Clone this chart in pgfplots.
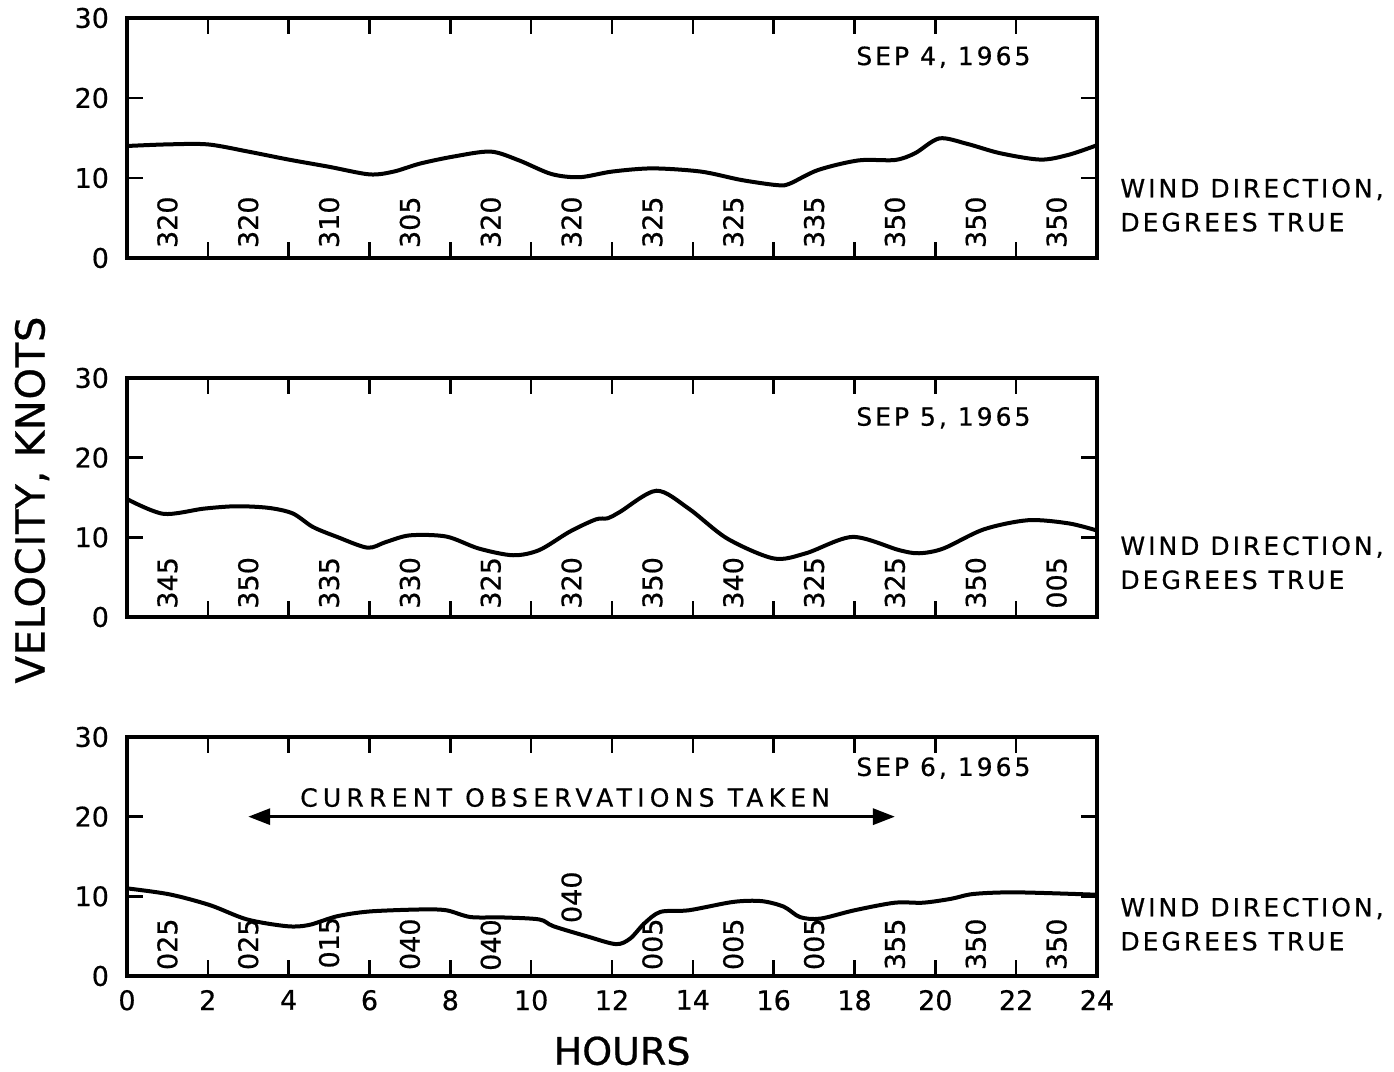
\documentclass[border=0pt]{standalone}
\usepackage{fontspec}
\setmainfont{DejaVu Sans}[FakeBold=0.6]
\usepackage{pgfplots}
\pgfplotsset{compat=1.18}
\usetikzlibrary{arrows.meta}

\newcommand{\lbl}{\fontsize{12.5bp}{17bp}\selectfont\addfontfeature{LetterSpace=12}}
\newcommand{\bigfont}{\fontsize{19bp}{22bp}\selectfont}

\pgfplotsset{
  panel/.style={
    width=485bp, height=120bp, scale only axis,
    xmin=0, xmax=24, ymin=0, ymax=30,
    xtick={0,2,...,24}, ytick={0,10,20,30},
    tick align=inside, major tick length=8bp,
    every tick/.style={black, line width=1.3bp},
    axis line style={line width=1.6bp},
    tick label style={font=\fontsize{13.5bp}{15bp}\selectfont},
    /pgf/number format/assume math mode=true,
    yticklabel style={xshift=-5.5bp},
    xticklabel style={yshift=-3.5bp},
    clip=false,
    anchor=south west,
  },
  curve/.style={black, line width=2bp, smooth, tension=0.5},
  dirs/.style={draw=none, mark=none, nodes near coords,
    point meta=explicit symbolic,
    every node near coord/.style={rotate=90, anchor=west, inner sep=0pt,
      font=\fontsize{13.5bp}{15bp}\selectfont}},
}

\begin{document}
\begin{tikzpicture}
\useasboundingbox (-63.5bp,-48bp) rectangle (633.5bp,488bp);

% Sep 4
\begin{axis}[panel, at={(0,359bp)}, xticklabels={}]
\addplot[curve] table {
0 14.0
1 14.2
2 14.2
3 13.3
4 12.3
5 11.4
6 10.45
6.6 10.8
7.25 11.8
8.1 12.7
9.0 13.3
9.7 12.2
10.5 10.5
11.2 10.1
12.0 10.8
13.0 11.2
14.2 10.8
15.2 9.75
16.1 9.1
16.4 9.3
17.1 11.0
18.1 12.2
19.0 12.25
19.5 13.1
20.1 14.95
20.8 14.25
21.6 13.1
22.6 12.3
23.3 12.9
24 14.1
};
\addplot[dirs] table[meta=d] {
x y d
1 1.2 320
3 1.2 320
5 1.2 310
7 1.2 305
9 1.2 320
11 1.2 320
13 1.2 325
15 1.2 325
17 1.2 335
19 1.2 350
21 1.2 350
23 1.2 350
};
\node[font=\lbl] at (axis cs:20.2,25.1) {SEP 4, 1965};
\node[font=\lbl, anchor=west, align=left, inner sep=0pt] at (axis cs:24.57,6.6) {WIND DIRECTION,\\DEGREES TRUE};
\end{axis}

% Sep 5
\begin{axis}[panel, at={(0,179.5bp)}, height=119.5bp, xticklabels={}]
\addplot[curve] table {
0 14.8
0.9 12.95
1.9 13.6
2.7 13.9
3.5 13.7
4.1 13.0
4.6 11.3
5.2 10.05
5.95 8.7
6.4 9.4
7.0 10.25
7.9 10.1
8.7 8.6
9.55 7.75
10.2 8.4
10.95 10.7
11.6 12.25
11.9 12.4
12.2 13.2
13.1 15.85
13.9 13.6
14.85 9.85
16.0 7.35
16.8 8.0
17.95 10.05
19.1 8.4
19.6 8.0
20.2 8.6
21.2 11.0
22.3 12.15
23.3 11.75
24 10.85
};
\addplot[dirs] table[meta=d] {
x y d
1 1.0 345
3 1.0 350
5 1.0 335
7 1.0 330
9 1.0 325
11 1.0 320
13 1.0 350
15 1.0 340
17 1.0 325
19 1.0 325
21 1.0 350
23 1.0 005
};
\node[font=\lbl] at (axis cs:20.2,25) {SEP 5, 1965};
\node[font=\lbl, anchor=west, align=left, inner sep=0pt] at (axis cs:24.57,6.8) {WIND DIRECTION,\\DEGREES TRUE};
\end{axis}

% Sep 6
\begin{axis}[panel, at={(0,0)}, height=119.5bp]
\addplot[curve] table {
0 11.0
1.05 10.25
2.05 8.9
2.97 7.1
3.96 6.25
4.5 6.4
5.2 7.5
6.0 8.1
7.25 8.35
7.9 8.25
8.5 7.4
9.3 7.35
10.2 7.1
10.55 6.25
11.4 4.95
12.1 4.0
12.45 4.7
12.8 6.6
13.2 8.05
13.9 8.25
15.0 9.3
15.7 9.4
16.25 8.7
16.65 7.4
17.15 7.2
18.0 8.25
19.0 9.2
19.7 9.2
20.4 9.7
20.95 10.3
22.0 10.5
24 10.2
};
\addplot[dirs] table[meta=d] {
x y d
1 0.7 025
3 0.7 025
5 0.9 015
7 0.7 040
9 0.6 040
11 6.6 040
13 0.7 005
15 0.7 005
17 0.7 005
19 0.7 355
21 0.7 350
23 0.7 350
};
\addplot[black, line width=1.6bp, {Triangle[length=11bp,width=8bp]}-{Triangle[length=11bp,width=8bp]}] coordinates {(3,20) (19,20)};
\node[font=\fontsize{12.5bp}{17bp}\selectfont\addfontfeature{LetterSpace=21}] at (axis cs:10.84,22.4) {CURRENT OBSERVATIONS TAKEN};
\node[font=\lbl] at (axis cs:20.2,26.1) {SEP 6, 1965};
\node[font=\lbl, anchor=west, align=left, inner sep=0pt] at (axis cs:24.57,6.5) {WIND DIRECTION,\\DEGREES TRUE};
\node[font=\bigfont] at (axis cs:12.25,-9.4) {HOURS};
\end{axis}

\node[rotate=90, font=\fontsize{20bp}{22bp}\selectfont\addfontfeature{LetterSpace=2}] at (-47.5bp,238bp) {VELOCITY, KNOTS};
\end{tikzpicture}
\end{document}
